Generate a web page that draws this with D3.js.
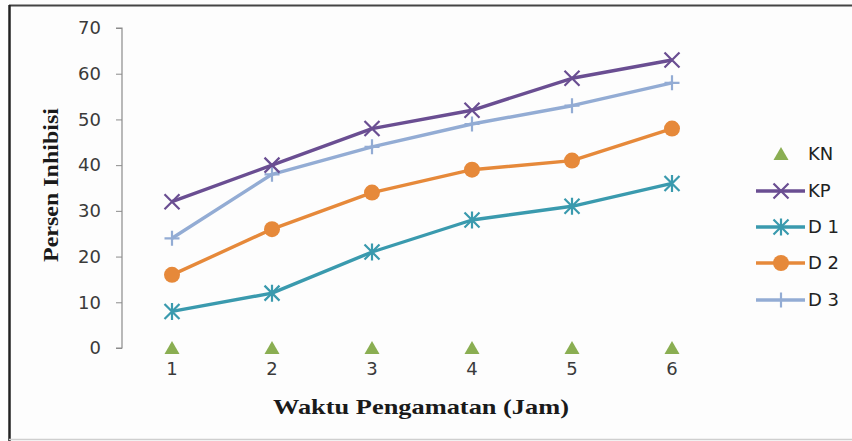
<!DOCTYPE html>
<html>
<head>
<meta charset="utf-8">
<script src="https://cdn.jsdelivr.net/npm/d3@7/dist/d3.min.js"></script>
<style>
  html, body { margin: 0; padding: 0; background: #ffffff; }
  svg { display: block; }
</style>
</head>
<body>
<div id="chart"></div>
<script>
// Observation hours (x categories)
const hours = ["1", "2", "3", "4", "5", "6"];
// Percent inhibition per treatment
const valuesKN = [0, 0, 0, 0, 0, 0];
const valuesKP = [32, 40, 48, 52, 59, 63];
const valuesD1 = [8, 12, 21, 28, 31, 36];
const valuesD2 = [16, 26, 34, 39, 41, 48];
const valuesD3 = [24, 38, 44, 49, 53, 58];
const yTicks = [0, 10, 20, 30, 40, 50, 60, 70];

const seriesNames = ["KN", "KP", "D 1", "D 2", "D 3"];
const series = [
  { name: seriesNames[0], values: valuesKN, color: "#8aae52", marker: "triangle", line: false },
  { name: seriesNames[1], values: valuesKP, color: "#6a4e92", marker: "x", line: true },
  { name: seriesNames[2], values: valuesD1, color: "#3a9aae", marker: "star", line: true },
  { name: seriesNames[3], values: valuesD2, color: "#e6893a", marker: "circle", line: true },
  { name: seriesNames[4], values: valuesD3, color: "#93acd4", marker: "plus", line: true }
];

const W = 852, H = 441;
const sansFont = "'DejaVu Sans', 'Open Sans', sans-serif";
const serifFont = "'Liberation Serif', 'Times New Roman', serif";
const svg = d3.select("#chart").append("svg").attr("width", W).attr("height", H);

// outer frame
svg.append("rect").attr("x", 0).attr("y", 0).attr("width", W).attr("height", H).attr("fill", "#fdfdfd");
svg.append("line").attr("x1", 9).attr("x2", W).attr("y1", 5.5).attr("y2", 5.5).attr("stroke", "#444").attr("stroke-width", 2);
svg.append("line").attr("x1", 9.5).attr("x2", 9.5).attr("y1", 5).attr("y2", H).attr("stroke", "#222").attr("stroke-width", 2.5);
svg.append("line").attr("x1", 9).attr("x2", W).attr("y1", 439.5).attr("y2", 439.5).attr("stroke", "#cfcfcf").attr("stroke-width", 1.5);

const plotLeft = 122, plotRight = 722, plotTop = 28, plotBottom = 348;
const x = d3.scaleBand().domain(hours).range([plotLeft, plotRight]);
const y = d3.scaleLinear().domain([0, 70]).range([plotBottom, plotTop]);
const cx = h => x(h) + x.bandwidth() / 2;

// y axis
const yAxis = svg.append("g").attr("transform", `translate(${plotLeft},0)`)
  .call(d3.axisLeft(y).tickValues(yTicks).tickSize(6).tickPadding(15));
yAxis.attr("font-size", 18).attr("font-family", sansFont);
yAxis.select(".domain").attr("stroke", "#8c8c8c").attr("stroke-width", 1.2).attr("d", `M-6,${plotTop}H0V${plotBottom}H-6`);
yAxis.selectAll(".tick line").attr("stroke", "#8c8c8c");
yAxis.selectAll(".tick text").attr("fill", "#3a3a3a");

// x tick labels (no visible horizontal axis line)
const xAxis = svg.append("g").attr("transform", `translate(0,${plotBottom})`)
  .call(d3.axisBottom(x).tickSize(0).tickPadding(14));
xAxis.attr("font-size", 18).attr("font-family", sansFont);
xAxis.select(".domain").remove();
xAxis.selectAll(".tick text").attr("fill", "#3a3a3a");

// axis titles
svg.append("text").attr("x", 421).attr("y", 414).attr("text-anchor", "middle")
  .attr("textLength", 296).attr("lengthAdjust", "spacingAndGlyphs")
  .style("font-family", serifFont).style("font-weight", "bold").style("font-size", "22px")
  .attr("fill", "#1a1a1a").text("Waktu Pengamatan (Jam)");
svg.append("text").attr("transform", "translate(58,185) rotate(-90)").attr("text-anchor", "middle")
  .attr("textLength", 154).attr("lengthAdjust", "spacingAndGlyphs")
  .style("font-family", serifFont).style("font-weight", "bold").style("font-size", "21px")
  .attr("fill", "#1a1a1a").text("Persen Inhibisi");

function drawMarker(g, type, color, px, py) {
  const s = 7.5;
  if (type === "triangle") {
    g.append("path").attr("d", `M${px},${py - 7}L${px + 7.5},${py + 6}L${px - 7.5},${py + 6}Z`).attr("fill", color);
  } else if (type === "circle") {
    g.append("circle").attr("cx", px).attr("cy", py).attr("r", 8).attr("fill", color);
  } else if (type === "x") {
    g.append("path").attr("d", `M${px - s},${py - s}L${px + s},${py + s}M${px - s},${py + s}L${px + s},${py - s}`)
      .attr("stroke", color).attr("stroke-width", 2.2);
  } else if (type === "plus") {
    g.append("path").attr("d", `M${px - s},${py}L${px + s},${py}M${px},${py - s}L${px},${py + s}`)
      .attr("stroke", color).attr("stroke-width", 2.2);
  } else if (type === "star") {
    g.append("path").attr("d", `M${px - s},${py - s}L${px + s},${py + s}M${px - s},${py + s}L${px + s},${py - s}M${px},${py - s - 1}L${px},${py + s + 1}`)
      .attr("stroke", color).attr("stroke-width", 2.2);
  }
}

const line = d3.line().x((d, i) => cx(hours[i])).y(d => y(d));
const plot = svg.append("g");
// draw in reverse so KP ends on top
[...series].reverse().forEach(s => {
  const g = plot.append("g");
  if (s.line) {
    g.append("path").datum(s.values).attr("d", line).attr("fill", "none")
      .attr("stroke", s.color).attr("stroke-width", 3.4).attr("stroke-linejoin", "round");
  }
  s.values.forEach((v, i) => drawMarker(g, s.marker, s.color, cx(hours[i]), y(v)));
});

// legend
const legRows = [154, 191, 227, 263, 300];
const leg = svg.append("g");
series.forEach((s, i) => {
  const ly = legRows[i];
  const g = leg.append("g");
  if (s.line) {
    g.append("line").attr("x1", 756).attr("x2", 805).attr("y1", ly).attr("y2", ly)
      .attr("stroke", s.color).attr("stroke-width", 3.4);
  }
  drawMarker(g, s.marker, s.color, 781, ly);
  g.append("text").attr("x", 808).attr("y", ly).attr("dy", "0.36em")
    .style("font-family", sansFont).style("font-size", "18px").attr("fill", "#222")
    .text(s.name);
});
</script>
</body>
</html>
